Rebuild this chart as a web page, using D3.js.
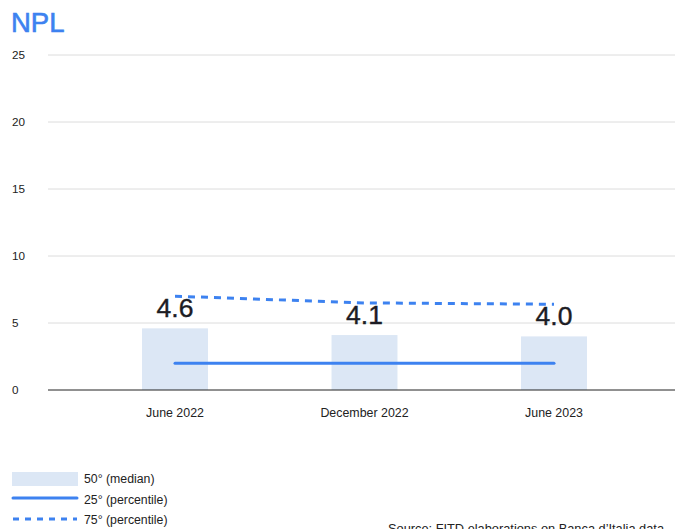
<!DOCTYPE html>
<html><head><meta charset="utf-8">
<script src="https://cdn.jsdelivr.net/npm/d3@7"></script>
<style>
body{margin:0;background:#fff;font-family:"Liberation Sans",Arial,Helvetica,sans-serif;}
svg{display:block}
</style></head>
<body>
<svg id="chart" width="675" height="529"></svg>
<script>
const categories = ["June 2022", "December 2022", "June 2023"];
const median = [4.6, 4.1, 4.0];
const p25 = [2.0, 2.0, 2.0];
const p75 = [7.0, 6.5, 6.4];
const yTicks = [0, 5, 10, 15, 20, 25];
const legendLabels = ["50° (median)", "25° (percentile)", "75° (percentile)"];
const title = "NPL";
const source = "Source: FITD elaborations on Banca d’Italia data";

const blue = "#3d82f0";
const barFill = "#dce7f5";
const svg = d3.select("#chart");

const x = d3.scaleBand().domain(categories).range([80.25, 648.75]).paddingInner(0.652).paddingOuter(0.326);
const y = d3.scaleLinear().domain([0, 25]).range([390, 55]);

svg.append("text").attr("x", 11).attr("y", 32).attr("fill", blue)
  .attr("font-size", 27.5).attr("stroke", blue).attr("stroke-width", 0.6).text(title);

// gridlines
svg.append("g").selectAll("line").data(yTicks.filter(d => d > 0)).join("line")
  .attr("x1", 48).attr("x2", 675).attr("y1", d => y(d)).attr("y2", d => y(d))
  .attr("stroke", "#dcdcdc").attr("stroke-width", 1);

// y axis labels
svg.append("g").selectAll("text").data(yTicks).join("text")
  .attr("x", 12).attr("y", d => y(d) + 4).attr("font-size", 11.7).attr("fill", "#222")
  .text(d => d);

// bars
svg.append("g").selectAll("rect").data(median).join("rect")
  .attr("x", (d, i) => x(categories[i])).attr("width", x.bandwidth())
  .attr("y", d => y(d)).attr("height", d => y(0) - y(d)).attr("fill", barFill);

// baseline
svg.append("line").attr("x1", 48).attr("x2", 675).attr("y1", y(0)).attr("y2", y(0))
  .attr("stroke", "#222").attr("stroke-width", 1);

const cx = (d, i) => x(categories[i]) + x.bandwidth() / 2;
const line = d3.line().x(cx).y(d => y(d));

svg.append("path").datum(p25).attr("d", line).attr("fill", "none")
  .attr("stroke", blue).attr("stroke-width", 3).attr("stroke-linecap", "round");
svg.append("path").datum(p75).attr("d", line).attr("fill", "none")
  .attr("stroke", blue).attr("stroke-width", 3).attr("stroke-dasharray", "7,6");

// data labels
svg.append("g").selectAll("text").data(median).join("text")
  .attr("x", cx).attr("y", d => y(d) - 11.5).attr("text-anchor", "middle")
  .attr("font-size", 26.5).attr("fill", "#1c1c24").attr("stroke", "#1c1c24").attr("stroke-width", 0.4)
  .text(d => d.toFixed(1));

// x labels
svg.append("g").selectAll("text").data(categories).join("text")
  .attr("x", (d) => x(d) + x.bandwidth() / 2).attr("y", 417).attr("text-anchor", "middle")
  .attr("font-size", 12.4).attr("fill", "#222").text(d => d);

// legend
const lg = svg.append("g");
lg.append("rect").attr("x", 12).attr("y", 472).attr("width", 66).attr("height", 14).attr("fill", barFill);
lg.append("line").attr("x1", 13).attr("x2", 77).attr("y1", 498).attr("y2", 498)
  .attr("stroke", blue).attr("stroke-width", 3).attr("stroke-linecap", "round");
lg.append("line").attr("x1", 13).attr("x2", 77).attr("y1", 519).attr("y2", 519)
  .attr("stroke", blue).attr("stroke-width", 3).attr("stroke-dasharray", "6,6");
lg.selectAll("text").data(legendLabels).join("text")
  .attr("x", 84).attr("y", (d, i) => 483 + i * 20.5).attr("font-size", 12.3).attr("fill", "#222")
  .text(d => d);

svg.append("text").attr("x", 388).attr("y", 533).attr("font-size", 12.8).attr("fill", "#222").text(source);
</script>
</body></html>
